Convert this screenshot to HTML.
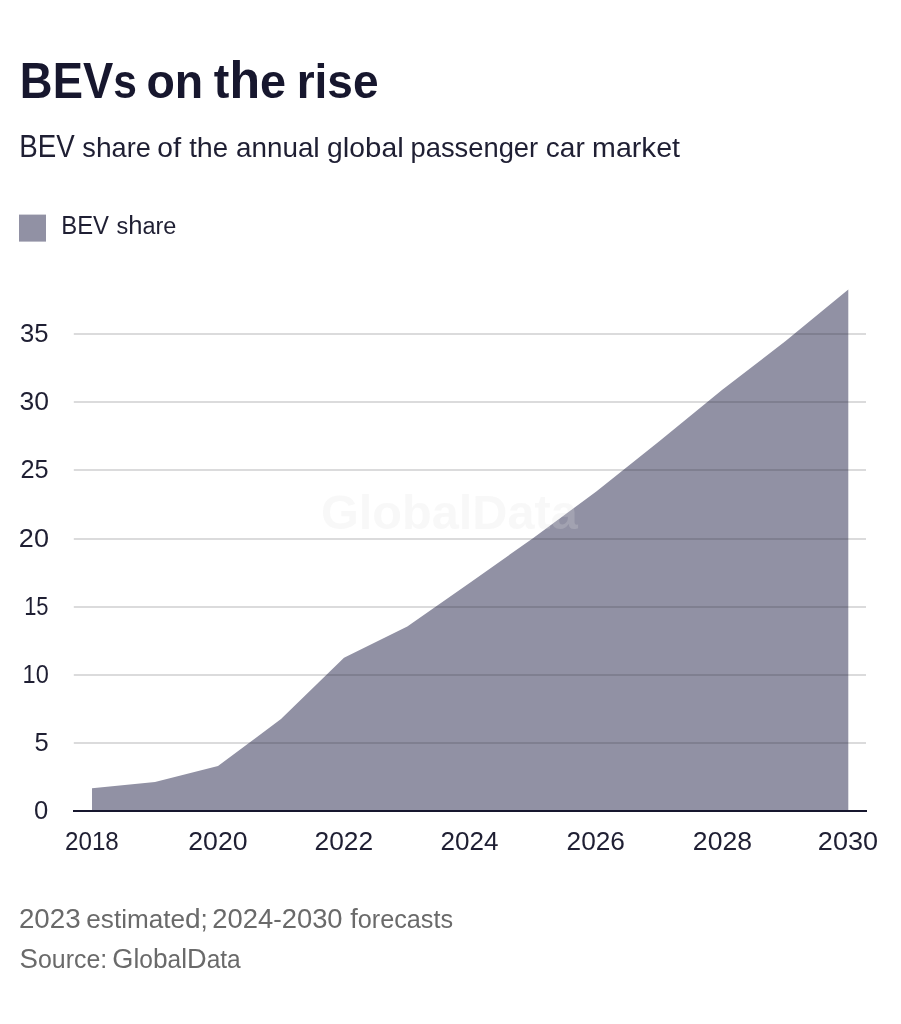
<!DOCTYPE html>
<html>
<head>
<meta charset="utf-8">
<title>BEVs on the rise</title>
<style>
  html, body { margin: 0; padding: 0; background: #ffffff; }
  body { width: 901px; height: 1024px; overflow: hidden; position: relative;
         font-family: "Liberation Sans", sans-serif; }
  svg { position: absolute; left: 0; top: 0; display: block; will-change: transform; }
  text { font-family: "Liberation Sans", sans-serif; }
  .title { font-weight: bold; fill: #17172e; }
  .sub   { fill: #1f1f33; }
  .leg   { fill: #1f1f33; }
  .ax    { fill: #1f1f33; }
  .foot  { fill: #6a6a6a; }
  .wm    { font-weight: bold; fill: #dfdfdf; fill-opacity: 0.22; }
</style>
</head>
<body>
<svg width="901" height="1024" viewBox="0 0 901 1024">
  <rect x="0" y="0" width="901" height="1024" fill="#ffffff"/>

  <!-- heading -->
  <text class="title" font-size="47.6" x="19.87" y="97.7" textLength="116.96" lengthAdjust="spacingAndGlyphs"><tspan font-size="50.8">BEV</tspan><tspan font-size="47.6">s</tspan></text>
  <text class="title" font-size="47.6" x="146.49" y="97.7" textLength="56.74" lengthAdjust="spacingAndGlyphs"><tspan font-size="47.6">on</tspan></text>
  <text class="title" font-size="47.6" x="213.81" y="97.7" textLength="72.21" lengthAdjust="spacingAndGlyphs"><tspan font-size="47.6">t</tspan><tspan font-size="51">h</tspan><tspan font-size="47.6">e</tspan></text>
  <text class="title" font-size="47.6" x="296.66" y="97.7" textLength="81.87" lengthAdjust="spacingAndGlyphs"><tspan font-size="47.6">rise</tspan></text>
  <text class="sub" font-size="26.9" x="19.23" y="156.5" textLength="55.43" lengthAdjust="spacingAndGlyphs"><tspan font-size="30.5">BEV</tspan></text>
  <text class="sub" font-size="26.9" x="82.34" y="156.5" textLength="68.52" lengthAdjust="spacingAndGlyphs"><tspan font-size="26.9">s</tspan><tspan font-size="28.0">h</tspan><tspan font-size="26.9">are</tspan></text>
  <text class="sub" font-size="26.9" x="157.19" y="156.5" textLength="23.91" lengthAdjust="spacingAndGlyphs"><tspan font-size="26.9">o</tspan><tspan font-size="28.0">f</tspan></text>
  <text class="sub" font-size="26.9" x="189.19" y="156.5" textLength="39.03" lengthAdjust="spacingAndGlyphs"><tspan font-size="26.9">t</tspan><tspan font-size="28.0">h</tspan><tspan font-size="26.9">e</tspan></text>
  <text class="sub" font-size="26.9" x="236.01" y="156.5" textLength="83.82" lengthAdjust="spacingAndGlyphs"><tspan font-size="26.9">annua</tspan><tspan font-size="28.0">l</tspan></text>
  <text class="sub" font-size="26.9" x="327.09" y="156.5" textLength="76.67" lengthAdjust="spacingAndGlyphs"><tspan font-size="26.9">g</tspan><tspan font-size="28.0">l</tspan><tspan font-size="26.9">o</tspan><tspan font-size="28.0">b</tspan><tspan font-size="26.9">a</tspan><tspan font-size="28.0">l</tspan></text>
  <text class="sub" font-size="26.9" x="410.52" y="156.5" textLength="127.61" lengthAdjust="spacingAndGlyphs"><tspan font-size="26.9">passenger</tspan></text>
  <text class="sub" font-size="26.9" x="545.80" y="156.5" textLength="38.98" lengthAdjust="spacingAndGlyphs"><tspan font-size="26.9">car</tspan></text>
  <text class="sub" font-size="26.9" x="592.14" y="156.5" textLength="87.93" lengthAdjust="spacingAndGlyphs"><tspan font-size="26.9">mar</tspan><tspan font-size="28.0">k</tspan><tspan font-size="26.9">et</tspan></text>

  <!-- legend -->
  <rect x="19" y="214.6" width="27" height="27" fill="#9191a4"/>
  <text class="leg" font-size="23.1" x="61.24" y="233.7" textLength="47.76" lengthAdjust="spacingAndGlyphs"><tspan font-size="26.1">BEV</tspan></text>
  <text class="leg" font-size="23.1" x="116.44" y="233.7" textLength="59.93" lengthAdjust="spacingAndGlyphs"><tspan font-size="23.1">s</tspan><tspan font-size="25.2">h</tspan><tspan font-size="23.1">are</tspan></text>

  <!-- area -->
  <polygon fill="#9191a4" points="92,811 92,788.2 155,782 218,766 281,719 344,657.7 407.3,626.5 470.3,582.4 533.3,538 596.3,491.5 659.3,441.3 722.3,389.7 785.3,341.3 848.3,289.6 848.3,811"/>

  <!-- gridlines (drawn over area) -->
  <g stroke="#2a2a30" stroke-opacity="0.17" stroke-width="2">
    <line x1="73.8" x2="866" y1="334" y2="334"/>
    <line x1="73.8" x2="866" y1="402" y2="402"/>
    <line x1="73.8" x2="866" y1="470" y2="470"/>
    <line x1="73.8" x2="866" y1="539" y2="539"/>
    <line x1="73.8" x2="866" y1="607" y2="607"/>
    <line x1="73.8" x2="866" y1="675" y2="675"/>
    <line x1="73.8" x2="866" y1="743" y2="743"/>
  </g>

  <!-- watermark -->
  <text class="wm" font-size="49" x="321.02" y="529" textLength="256.66" lengthAdjust="spacingAndGlyphs">GlobalData</text>

  <!-- baseline -->
  <line x1="73" x2="867" y1="811" y2="811" stroke="#17172e" stroke-width="2"/>

  <!-- y labels -->
  <g>
  <text class="ax" font-size="25" x="20.07" y="341.5" textLength="28.51" lengthAdjust="spacingAndGlyphs">35</text>
  <text class="ax" font-size="25" x="19.44" y="409.5" textLength="29.49" lengthAdjust="spacingAndGlyphs">30</text>
  <text class="ax" font-size="25" x="20.44" y="477.5" textLength="28.14" lengthAdjust="spacingAndGlyphs">25</text>
  <text class="ax" font-size="25" x="18.85" y="546.5" textLength="30.10" lengthAdjust="spacingAndGlyphs">20</text>
  <text class="ax" font-size="25" x="24.15" y="614.5" textLength="24.39" lengthAdjust="spacingAndGlyphs">15</text>
  <text class="ax" font-size="25" x="22.62" y="682.5" textLength="26.18" lengthAdjust="spacingAndGlyphs">10</text>
  <text class="ax" font-size="25" x="34.58" y="750.5" textLength="14.20" lengthAdjust="spacingAndGlyphs">5</text>
  <text class="ax" font-size="25" x="33.98" y="818.5" textLength="14.25" lengthAdjust="spacingAndGlyphs">0</text>
  </g>

  <!-- x labels -->
  <text class="ax" font-size="25" x="64.99" y="849.8" textLength="53.80" lengthAdjust="spacingAndGlyphs">2018</text>
  <text class="ax" font-size="25" x="188.27" y="849.8" textLength="59.33" lengthAdjust="spacingAndGlyphs">2020</text>
  <text class="ax" font-size="25" x="314.48" y="849.8" textLength="58.67" lengthAdjust="spacingAndGlyphs">2022</text>
  <text class="ax" font-size="25" x="440.60" y="849.8" textLength="58.02" lengthAdjust="spacingAndGlyphs">2024</text>
  <text class="ax" font-size="25" x="566.59" y="849.8" textLength="58.39" lengthAdjust="spacingAndGlyphs">2026</text>
  <text class="ax" font-size="25" x="692.87" y="849.8" textLength="59.12" lengthAdjust="spacingAndGlyphs">2028</text>
  <text class="ax" font-size="25" x="817.85" y="849.8" textLength="60.17" lengthAdjust="spacingAndGlyphs">2030</text>

  <!-- footer -->
  <text class="foot" font-size="25.4" x="18.93" y="927.8" textLength="61.72" lengthAdjust="spacingAndGlyphs"><tspan font-size="27.3">2023</tspan></text>
  <text class="foot" font-size="25.4" x="86.37" y="927.8" textLength="121.51" lengthAdjust="spacingAndGlyphs"><tspan font-size="25.4">estimate</tspan><tspan font-size="27.3">d</tspan><tspan font-size="25.4">;</tspan></text>
  <text class="foot" font-size="25.4" x="212.25" y="927.8" textLength="130.35" lengthAdjust="spacingAndGlyphs"><tspan font-size="27.3">2024</tspan><tspan font-size="25.4">-</tspan><tspan font-size="27.3">2030</tspan></text>
  <text class="foot" font-size="25.4" x="350.20" y="927.8" textLength="102.90" lengthAdjust="spacingAndGlyphs"><tspan font-size="27.3">f</tspan><tspan font-size="25.4">orecasts</tspan></text>
  <text class="foot" font-size="25.4" x="19.57" y="968.2" textLength="87.67" lengthAdjust="spacingAndGlyphs"><tspan font-size="28.2">S</tspan><tspan font-size="25.4">ource:</tspan></text>
  <text class="foot" font-size="25.4" x="112.35" y="968.2" textLength="128.39" lengthAdjust="spacingAndGlyphs"><tspan font-size="28.2">G</tspan><tspan font-size="27.3">l</tspan><tspan font-size="25.4">o</tspan><tspan font-size="27.3">b</tspan><tspan font-size="25.4">a</tspan><tspan font-size="27.3">l</tspan><tspan font-size="28.2">D</tspan><tspan font-size="25.4">ata</tspan></text>
</svg>
</body>
</html>
